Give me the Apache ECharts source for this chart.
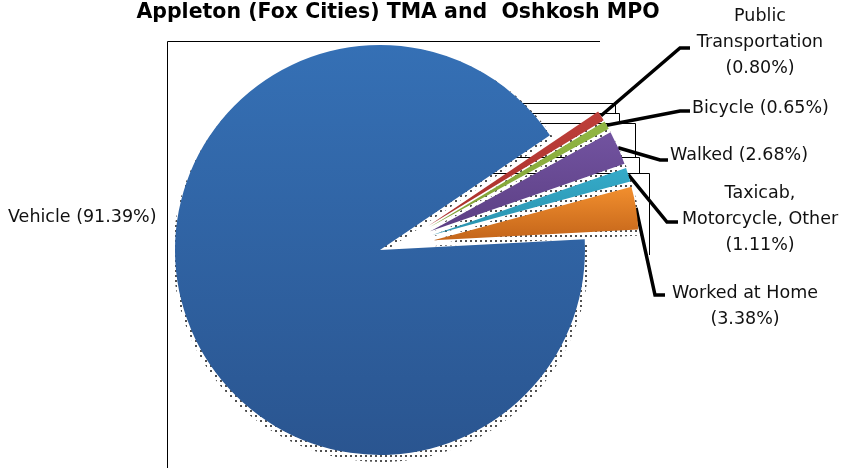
<!DOCTYPE html>
<html><head><meta charset="utf-8">
<script src="https://cdn.jsdelivr.net/npm/echarts@6/dist/echarts.min.js"></script>
<style>html,body{margin:0;padding:0;background:#fff}#c{width:841px;height:468px}</style>
</head><body><div id="c"></div>
<script>
// ---- data ----
const titleText = 'Appleton (Fox Cities) TMA and  Oshkosh MPO';
const categories = ['Public Transportation', 'Bicycle', 'Walked', 'Taxicab, Motorcycle, Other', 'Worked at Home', 'Vehicle'];
const shares = [0.80, 0.65, 2.68, 1.11, 3.38, 91.39];
const labelTexts = [
  'Public\nTransportation\n(0.80%)',
  'Bicycle (0.65%)',
  'Walked (2.68%)',
  'Taxicab,\nMotorcycle, Other\n(1.11%)',
  'Worked at Home\n(3.38%)',
  'Vehicle (91.39%)'
];

// ---- styles / layout ----
const colorsTop    = ['#BE3F3A', '#92B744', '#7253A0', '#35ABC9', '#F28F2E', '#3570B5'];
const colorsBottom = ['#A9302B', '#7FA035', '#5C3F84', '#2A93AF', '#C4651A', '#2A5590'];
const START = 34;
const R = 205;
const mainCenter = [380, 250];
const smallOrigin = [397, 246];
const explode = 37;
const labelSpecs = [
  {x: 760, y: 42,  align: 'center', bend: [680, 48],  end: [690, 48]},
  {x: 692, y: 108, align: 'left',   bend: [680, 111], end: [690, 111]},
  {x: 670, y: 155, align: 'left',   bend: [660, 160], end: [668, 160]},
  {x: 760, y: 219, align: 'center', bend: [667, 222], end: [678, 222]},
  {x: 745, y: 306, align: 'center', bend: [655, 295], end: [665, 295]},
  {x: 8,   y: 217, align: 'left'}
];
const FONT = 'DejaVu Sans';

const total = shares.reduce((a, b) => a + b, 0);
function grad(i) {
  return {type: 'linear', x: 0, y: 0, x2: 0, y2: 1,
    colorStops: [{offset: 0, color: colorsTop[i]}, {offset: 1, color: colorsBottom[i]}]};
}
function centerFor(i) {
  if (i === categories.length - 1) return mainCenter;
  let before = 0;
  for (let k = 0; k < i; k++) before += shares[k];
  const mid = (START - (before + shares[i] / 2) / total * 360) * Math.PI / 180;
  return [smallOrigin[0] + explode * Math.cos(mid), smallOrigin[1] - explode * Math.sin(mid)];
}
const decal = {symbol: 'rect', symbolSize: 1, dashArrayX: [1.3, 2.4], dashArrayY: [1.3, 2.4], color: '#505050'};

function makeSeries(vis, shadow) {
  const c = centerFor(vis);
  const center = shadow ? [c[0] + 1, c[1] + (vis === 5 ? 4 : 6)] : c;
  const radius = shadow ? (vis === 5 ? R + 3 : R + 2) : R;
  return {
    type: 'pie', center: center, radius: radius, startAngle: START, clockwise: true,
    avoidLabelOverlap: false, silent: true, animation: false,
    z: shadow ? 1 : 3,
    emphasis: {disabled: true},
    data: categories.map((name, i) => ({
      name: name, value: shares[i],
      itemStyle: (i === vis)
        ? (shadow ? {color: 'rgba(0,0,0,0)', decal: decal} : {color: grad(i)})
        : {color: 'rgba(0,0,0,0)'},
      label: {show: !shadow && i === vis},
      labelLine: {show: !shadow && i === vis && i !== 5}
    })),
    label: {
      formatter: p => labelTexts[p.dataIndex],
      fontFamily: FONT, fontSize: 17.5, lineHeight: 26, color: '#111'
    },
    labelLine: {length: 10, length2: 10, lineStyle: {width: 3.5, color: '#000'}},
    labelLayout: function (p) {
      const s = labelSpecs[p.dataIndex];
      const out = {x: s.x, y: s.y, align: s.align, verticalAlign: 'middle'};
      if (s.bend && p.labelLinePoints) {
        out.labelLinePoints = [p.labelLinePoints[0], s.bend, s.end];
      }
      return out;
    }
  };
}

const series = [];
for (let i = 0; i < categories.length; i++) series.push(makeSeries(i, true));
for (let i = 0; i < categories.length; i++) series.push(makeSeries(i, false));

const thin = {stroke: '#000', lineWidth: 1};
const frameLines = [
  [167.5, 41.5, 600, 41.5], [167.5, 41.5, 167.5, 468],
  [470, 103.5, 615.5, 103.5], [615.5, 103.5, 615.5, 113.5],
  [470, 113.5, 619.5, 113.5], [619.5, 113.5, 619.5, 123.5],
  [470, 123.5, 635.5, 123.5], [635.5, 123.5, 635.5, 157.5],
  [470, 157.5, 639.5, 157.5], [639.5, 157.5, 639.5, 173.5],
  [470, 173.5, 649.5, 173.5], [649.5, 173.5, 649.5, 255]
];

const chart = echarts.init(document.getElementById('c'), null, {renderer: 'canvas'});
chart.setOption({
  animation: false,
  backgroundColor: '#fff',
  title: {
    text: titleText, left: 393, textAlign: 'center', top: -3,
    textStyle: {fontFamily: FONT, fontWeight: 'bold', fontSize: 20.5, color: '#000'}
  },
  graphic: frameLines.map(l => ({
    type: 'line', z: 0, silent: true,
    shape: {x1: l[0], y1: l[1], x2: l[2], y2: l[3]}, style: thin
  })),
  series: series
});
</script>
</body></html>
